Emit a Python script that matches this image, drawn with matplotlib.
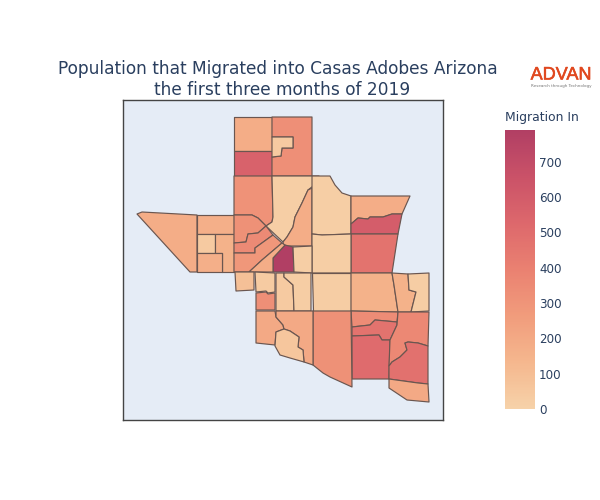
import matplotlib
matplotlib.use('Agg')
import matplotlib.pyplot as plt
import matplotlib.patheffects as pe
from matplotlib.collections import PolyCollection
from matplotlib.colors import LinearSegmentedColormap, Normalize

# Census block groups, outlines (x, y as in the picture)
tracts = [
    [(234,117),(272,117),(272,151),(234,151)],
    [(234,151),(272,151),(272,176),(234,176)],
    [(272,117),(312,117),(312,176),(272,176),(272,157),(281,156),(282,148),(293,148),(293,137),(272,137)],
    [(272,137),(293,137),(293,148),(282,148),(281,156),(272,157)],
    [(234,176),(272,176),(273,217),(272,222),(266,226),(258,218),(252,215),(234,215)],
    [(272,176),(319,176),(317,183),(308,190),(302,203),(295,217),(293,227),(287,237),(283,242),(266,226),(272,222),(273,217)],
    [(308,190),(312,188),(312,246),(284,246),(283,242),(287,237),(293,227),(295,217),(302,203)],
    [(312,176),(330,176),(335,185),(342,193),(351,196),(351,234),(322,235),(312,234)],
    [(351,196),(410,196),(402,214),(392,214),(383,217),(370,217),(368,219),(358,218),(351,224)],
    [(351,224),(358,218),(368,219),(370,217),(383,217),(392,214),(402,214),(398,234),(351,234)],
    [(351,234),(398,234),(392,273),(351,273)],
    [(312,234),(322,235),(351,234),(351,273),(312,273)],
    [(312,273),(351,273),(351,311),(313,311)],
    [(351,273),(392,273),(394,285),(398,312),(351,311)],
    [(392,273),(408,274),(409,290),(416,292),(411,312),(398,312),(394,285)],
    [(408,274),(429,273),(429,311),(411,312),(416,292),(409,290)],
    [(351,311),(398,312),(397,322),(375,320),(370,325),(352,327)],
    [(352,327),(370,325),(375,320),(397,322),(397,325),(390,340),(382,340),(379,335),(352,336)],
    [(352,336),(379,335),(382,340),(390,340),(389,379),(352,379)],
    [(398,312),(429,312),(428,346),(418,343),(408,342),(405,343),(407,350),(400,357),(392,362),(389,366),(390,340),(397,325)],
    [(389,366),(392,362),(400,357),(407,350),(405,343),(408,342),(418,343),(428,346),(428,384),(418,383),(389,379)],
    [(389,379),(418,383),(428,384),(429,402),(407,400),(389,388)],
    [(313,311),(351,311),(352,387),(330,377),(323,373),(313,365)],
    [(285,245),(293,247),(294,272),(273,272),(273,258)],
    [(293,247),(312,246),(312,273),(294,272)],
    [(137,214),(142,212),(197,215),(197,272),(190,272)],
    [(197,215),(234,215),(234,234),(197,234)],
    [(197,234),(215,234),(215,253),(197,253)],
    [(215,234),(234,234),(234,272),(222,272),(222,253),(215,253)],
    [(197,253),(222,253),(222,272),(197,272)],
    [(234,215),(252,215),(258,218),(266,226),(258,233),(248,234),(246,242),(234,243)],
    [(234,243),(246,242),(248,234),(258,233),(266,226),(273,235),(255,248),(255,253),(234,253)],
    [(234,253),(255,253),(255,248),(273,235),(282,243),(262,260),(249,272),(234,272)],
    [(249,272),(262,260),(282,243),(285,245),(273,258),(273,272)],
    [(235,272),(254,272),(254,290),(236,291)],
    [(255,272),(275,273),(275,292),(268,293),(266,291),(256,292)],
    [(256,293),(266,292),(268,294),(275,293),(275,310),(256,310)],
    [(276,273),(284,273),(284,277),(293,285),(294,311),(276,311)],
    [(284,273),(311,273),(311,311),(294,311),(293,285),(284,277)],
    [(256,311),(275,311),(276,317),(283,325),(284,329),(276,332),(275,345),(256,343)],
    [(276,311),(313,311),(313,365),(304,362),(303,350),(298,347),(299,337),(290,331),(284,329),(283,325),(276,317)],
    [(276,332),(284,329),(290,331),(299,337),(298,347),(303,350),(304,362),(290,358),(280,355),(275,346)],
]
migration_in = [180, 560, 330, 40, 310, 20, 180, 20, 180, 590, 470, 20, 25, 160, 160, 25,
                340, 470, 510, 360, 480, 200, 320, 790, 20, 180, 170, 40, 160, 170, 320,
                350, 290, 180, 90, 35, 330, 40, 25, 200, 200, 60]

redor = ['#f6d2a9', '#f5b78e', '#f19c7c', '#ea8171', '#dd686c', '#ca5268', '#b13f64']
colorbar_ticks = [0, 100, 200, 300, 400, 500, 600, 700]

title_color = '#2a3f5f'
plt.rcParams['font.family'] = 'DejaVu Sans'

fig = plt.figure(figsize=(6, 5), dpi=100)

# map frame
ax = fig.add_axes([123/600, 80/500, 320/600, 320/500])
ax.set_facecolor('#e5ecf6')
ax.set_xlim(123, 443)
ax.set_ylim(420, 100)
ax.set_xticks([])
ax.set_yticks([])
for side in ax.spines.values():
    side.set_color('#444444')
    side.set_linewidth(1)

cmap = LinearSegmentedColormap.from_list('redor', redor)
norm = Normalize(vmin=0, vmax=790)
polys = PolyCollection(tracts, array=migration_in, cmap=cmap, norm=norm,
                       edgecolors='#6a5650', linewidths=0.85, antialiased=True)
ax.add_collection(polys)

# colorbar
cax = fig.add_axes([505/600, 91/500, 30/600, 279/500])
cbar = fig.colorbar(polys, cax=cax)
cbar.set_ticks(colorbar_ticks)
cbar.outline.set_visible(False)
cbar.ax.tick_params(length=0, pad=3, labelsize=8.6, labelcolor=title_color)

fig.text(505/600, 1 - 118/500, 'Migration In', color=title_color, fontsize=8.9,
         ha='left', va='center')

# title
fig.text(278/600, 1 - 69/500, 'Population that Migrated into Casas Adobes Arizona',
         color=title_color, fontsize=12.25, ha='center', va='center')
fig.text(282.5/600, 1 - 90/500, 'the first three months of 2019',
         color=title_color, fontsize=12.25, ha='center', va='center')

# logo
logo = fig.text(561/600, 1 - 75/500, 'ADVAN', color='#e0481f', fontsize=13,
                ha='center', va='center', family='Liberation Sans')
logo.set_path_effects([pe.withStroke(linewidth=0.4, foreground='#e0481f')])
fig.text(561/600, 1 - 86/500, 'Research through Technology', color='#777777', fontsize=3.0,
         ha='center', va='center')

fig.savefig('out.png', dpi=100)
